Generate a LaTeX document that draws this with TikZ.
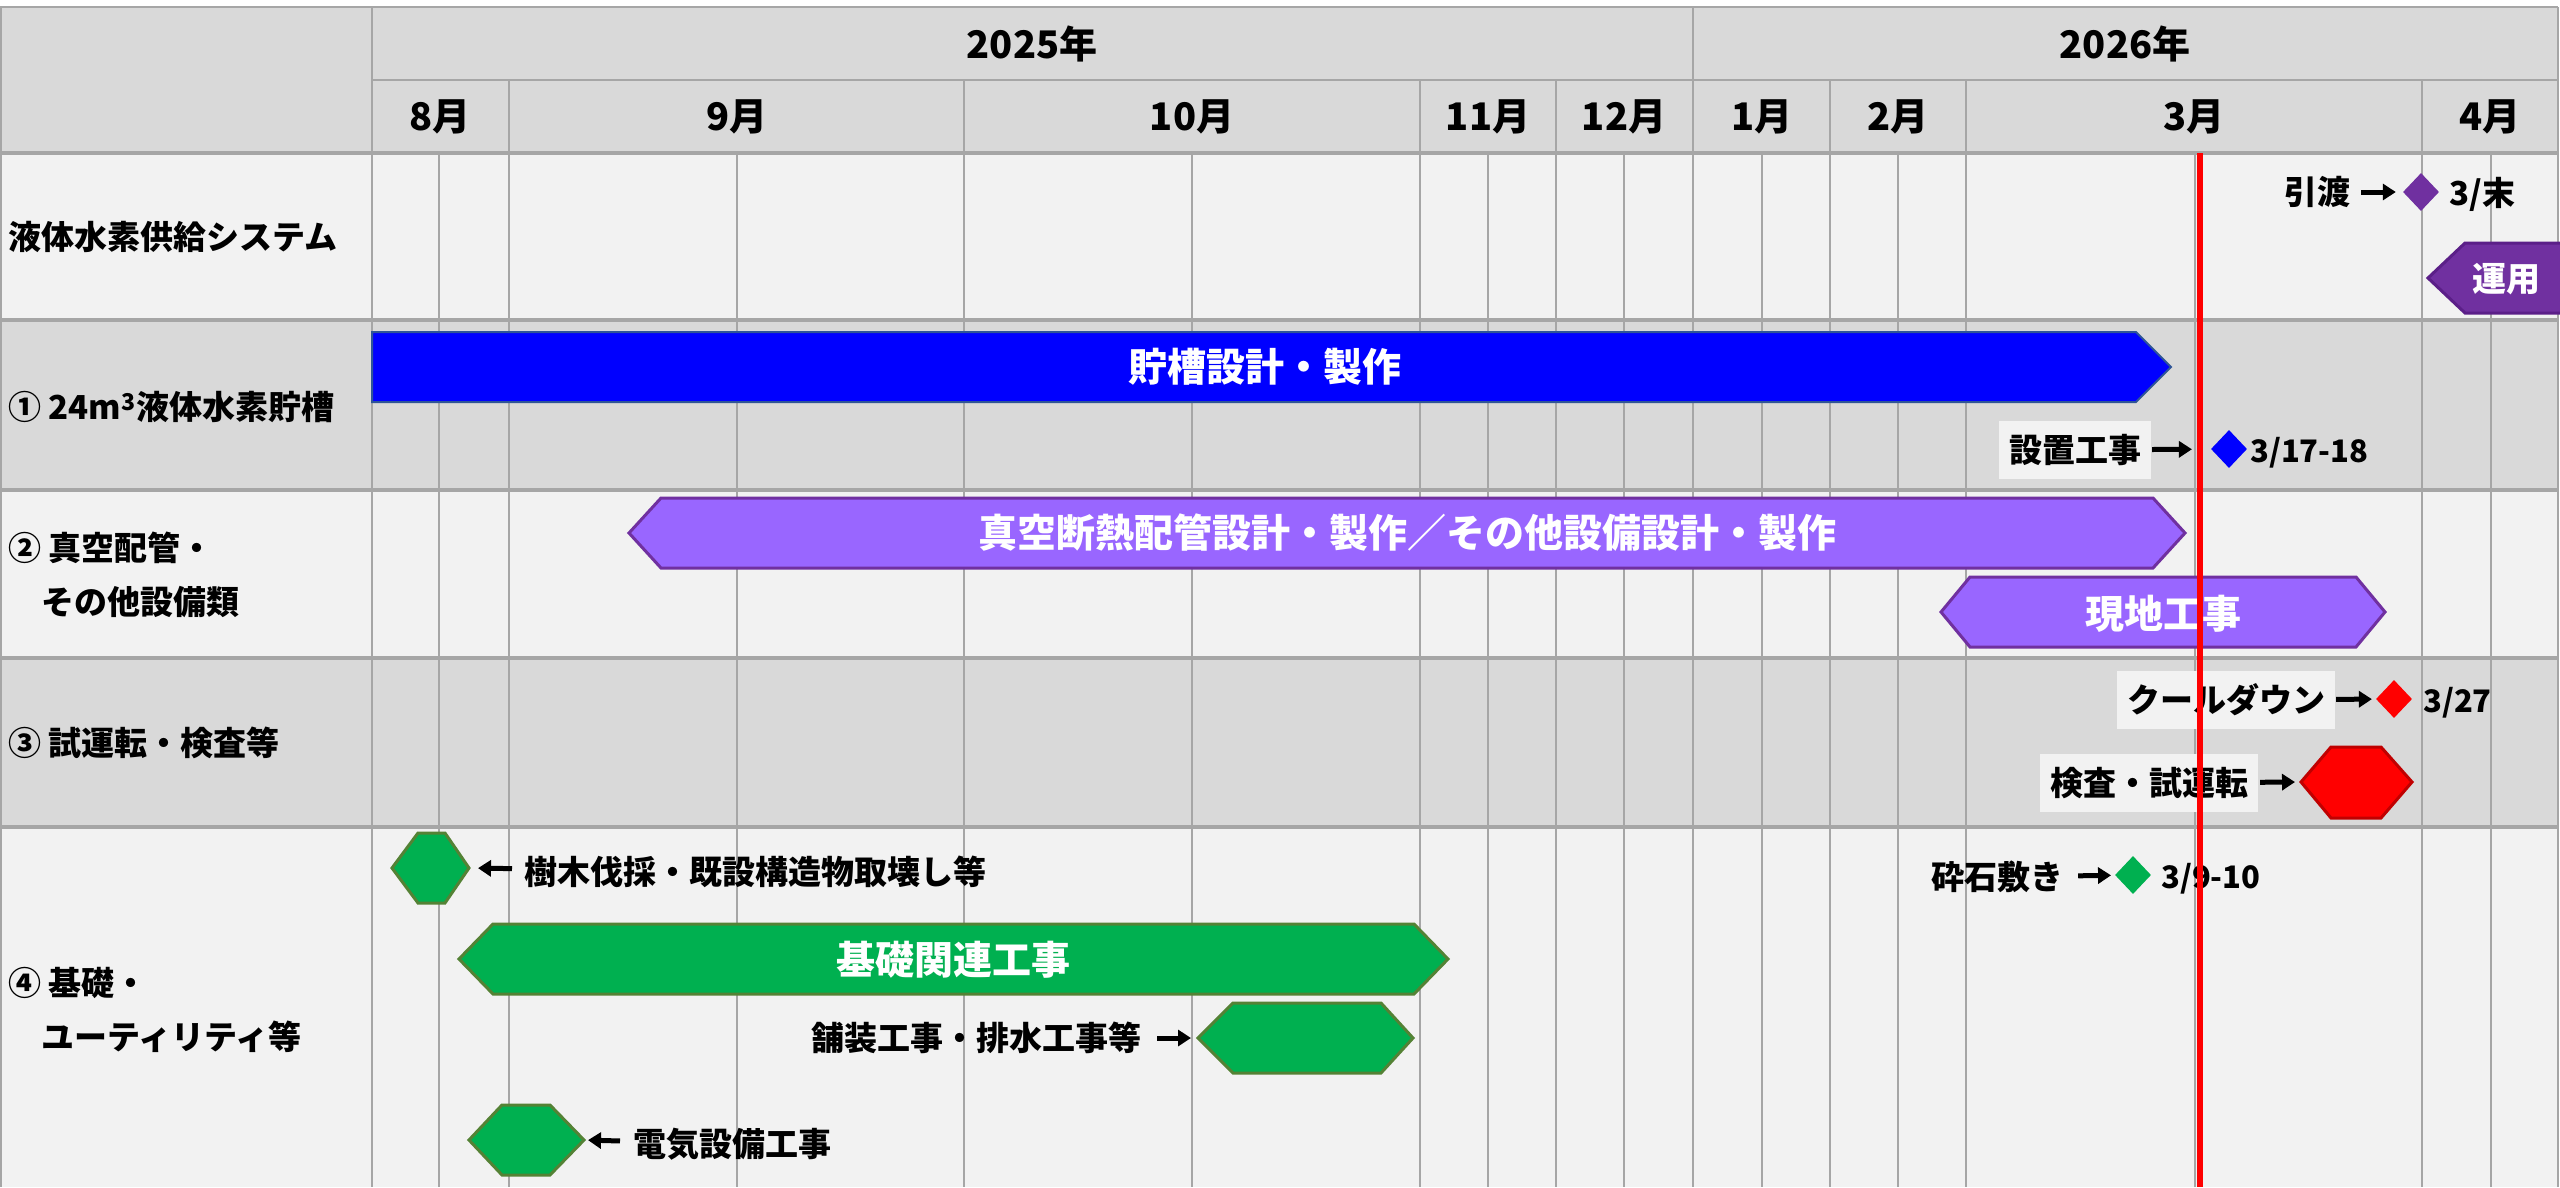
\documentclass[tikz,border=0pt]{standalone}
\usepackage{fontspec}
\setmainfont{Noto Sans CJK JP}
\usepackage{tikz}
\usetikzlibrary{arrows.meta}
\usetikzlibrary{shapes.geometric}

\definecolor{headgray}{HTML}{D9D9D9}
\definecolor{rowlight}{HTML}{F2F2F2}
\definecolor{gridgray}{HTML}{A6A6A6}
\definecolor{barblue}{HTML}{0000FF}
\definecolor{bluerim}{HTML}{2F5597}
\definecolor{barlilac}{HTML}{9966FF}
\definecolor{barpurple}{HTML}{7030A0}
\definecolor{purplerim}{HTML}{5B1F88}
\definecolor{bargreen}{HTML}{00B050}
\definecolor{greenrim}{HTML}{548235}
\definecolor{barred}{HTML}{FF0000}
\definecolor{redrim}{HTML}{C00000}

\tikzset{
  gridline/.style={draw=gridgray, line width=2.5pt},
  rowline/.style={draw=gridgray, line width=3.5pt},
  todayline/.style={draw=barred, line width=6pt},
  tankbar/.style={fill=barblue, draw=bluerim, line width=2pt},
  lilacbar/.style={fill=barlilac, draw=barpurple, line width=3pt},
  plumbar/.style={fill=barpurple, draw=purplerim, line width=3pt},
  greenbar/.style={fill=bargreen, draw=greenrim, line width=3pt},
  redbar/.style={fill=barred, draw=redrim, line width=3pt},
  headtext/.style={font=\bfseries\fontsize{38}{40}\selectfont},
  rowlabel/.style={anchor=west, inner sep=0pt, align=left, font=\bfseries\fontsize{33}{54}\selectfont},
  bartext/.style={text=white, inner sep=0pt, font=\bfseries\fontsize{39}{40}\selectfont},
  smalltext/.style={inner sep=0pt, font=\bfseries\fontsize{33}{36}\selectfont},
  smallbox/.style={smalltext, fill=rowlight, inner xsep=10pt, minimum height=58pt},
  datetext/.style={anchor=west, inner sep=0pt, font=\bfseries\fontsize{31}{36}\selectfont},
  milestone/.style={diamond, inner sep=0pt, minimum width=36pt, minimum height=38pt},
  callarrow/.style={line width=5pt, -{Triangle[length=13pt,width=16pt]}}
}

\begin{document}
\begin{tikzpicture}[x=1pt,y=-1pt]
  \useasboundingbox (0,0) rectangle (2560,1187);
  % table background
  \fill[headgray] (0,7) rectangle (2558,153);
  \fill[rowlight] (0,153) rectangle (2558,320);
  \fill[headgray] (0,320) rectangle (2558,490);
  \fill[rowlight] (0,490) rectangle (2558,658);
  \fill[headgray] (0,658) rectangle (2558,827);
  \fill[rowlight] (0,827) rectangle (2558,1187);
  % grid
  \foreach \x in {439,737,1192,1488,1624,1762,1898,2195,2491}
    \draw[gridline] (\x,153) -- (\x,1187);
  \foreach \x in {509,964,1420,1556,1830,1966,2422}
    \draw[gridline] (\x,80) -- (\x,1187);
  \foreach \x in {1,372,1693,2558}
    \draw[gridline] (\x,7) -- (\x,1187);
  \draw[gridline] (0,7) -- (2558,7);
  \draw[gridline] (372,80) -- (2558,80);
  \foreach \y in {153,320,490,658,827}
    \draw[rowline] (0,\y) -- (2558,\y);

  % header
  \node[headtext] (y2025) at (1032,44) {2025年};
  \node[headtext] (y2026) at (2125,44) {2026年};
  \node[headtext] (m8) at (440,117) {8月};
  \node[headtext] (m9) at (737,117) {9月};
  \node[headtext] (m10) at (1192,117) {10月};
  \node[headtext] (m11) at (1488,117) {11月};
  \node[headtext] (m12) at (1624,117) {12月};
  \node[headtext] (m1) at (1762,117) {1月};
  \node[headtext] (m2) at (1898,117) {2月};
  \node[headtext] (m3) at (2194,117) {3月};
  \node[headtext] (m4) at (2490,117) {4月};

  % row labels
  \node[rowlabel] (system) at (8,237) {液体水素供給システム};
  \node[rowlabel] (tank) at (8,407) {① 24m\textsuperscript{3}液体水素貯槽};
  \node[rowlabel] (piping) at (8,575) {② 真空配管・\\　その他設備類};
  \node[rowlabel] (testrun) at (8,743) {③ 試運転・検査等};
  \node[rowlabel] (utility) at (8,1010) {④ 基礎・\\　ユーティリティ等};

  % system
  \node[smalltext] (handover) at (2317,192) {引渡};
  \node[milestone, fill=barpurple] (handover-ms) at (2421,192) {};
  \node[smalltext, anchor=west] (handover-date) at (2449,194) {3/末};
  \draw[callarrow, shorten <=11pt, shorten >=7pt] (handover) -- (handover-ms);
  \draw[plumbar] (2428,278) -- (2465,243) -- (2575,243) -- (2575,313) -- (2465,313) -- cycle;
  \node[bartext, font=\bfseries\fontsize{34}{36}\selectfont] (operation) at (2506,279) {運用};

  % tank
  \draw[tankbar] (372,332) -- (2136,332) -- (2171,367) -- (2136,402) -- (372,402) -- cycle;
  \node[bartext] (tankwork) at (1265,367) {貯槽設計・製作};
  \node[smallbox] (install) at (2075,450) {設置工事};
  \node[milestone, fill=barblue] (install-ms) at (2229,449) {};
  \node[datetext] (install-date) at (2250,453) {3/17-18};
  \draw[callarrow, shorten <=1pt, shorten >=19pt] (install) -- (install-ms);

  % piping
  \draw[lilacbar] (629,533) -- (661,498) -- (2153,498) -- (2185,533) -- (2153,568) -- (661,568) -- cycle;
  \node[bartext] (pipework) at (1407,533) {真空断熱配管設計・製作／その他設備設計・製作};
  \draw[lilacbar] (1941,612) -- (1970,577) -- (2356,577) -- (2385,612) -- (2356,647) -- (1970,647) -- cycle;
  \node[bartext] (sitework) at (2163,614) {現地工事};

  % test run
  \node[smallbox] (cooldown) at (2226,700) {クールダウン};
  \node[milestone, fill=barred] (cooldown-ms) at (2394,699) {};
  \node[datetext] (cooldown-date) at (2423,703) {3/27};
  \draw[callarrow, shorten <=1pt, shorten >=4pt] (cooldown) -- (cooldown-ms);
  \draw[redbar] (2301,782) coordinate (inspect-tip) -- (2331,747) -- (2381,747) -- (2412,782) -- (2381,818) -- (2331,818) -- cycle;
  \node[smallbox] (inspect) at (2149,783) {検査・試運転};
  \draw[callarrow, shorten <=2pt, shorten >=6pt] (inspect) -- (inspect-tip);

  % foundation
  \draw[greenbar] (392,868) -- (418,833) -- (445,833) -- (469,868) coordinate (felling-tip) -- (445,903) -- (418,903) -- cycle;
  \node[smalltext, anchor=west] (felling) at (524,872) {樹木伐採・既設構造物取壊し等};
  \draw[callarrow, shorten <=12pt, shorten >=9pt] (felling) -- (felling-tip);
  \draw[greenbar] (459,959) -- (493,924) -- (1414,924) -- (1448,959) -- (1414,994) -- (493,994) -- cycle;
  \node[bartext] (foundation) at (953,960) {基礎関連工事};
  \draw[greenbar] (1198,1038) coordinate (paving-tip) -- (1233,1003) -- (1381,1003) -- (1413,1038) -- (1381,1073) -- (1233,1073) -- cycle;
  \node[smalltext] (paving) at (976,1038) {舗装工事・排水工事等};
  \draw[callarrow, shorten <=16pt, shorten >=7pt] (paving) -- (paving-tip);
  \draw[greenbar] (469,1140) -- (502,1105) -- (550,1105) -- (584,1140) coordinate (electric-tip) -- (550,1175) -- (502,1175) -- cycle;
  \node[smalltext, anchor=west] (electric) at (633,1144) {電気設備工事};
  \draw[callarrow, shorten <=13pt, shorten >=4pt] (electric) -- (electric-tip);
  \node[smalltext] (gravel) at (1997,877) {砕石敷き};
  \node[milestone, fill=bargreen] (gravel-ms) at (2133,875) {};
  \node[datetext] (gravel-date) at (2161,879) {3/9-10};
  \draw[callarrow, shorten <=15pt, shorten >=4pt] (gravel) -- (gravel-ms);

  % today
  \draw[todayline] (2200,153) -- (2200,1187);
\end{tikzpicture}
\end{document}
